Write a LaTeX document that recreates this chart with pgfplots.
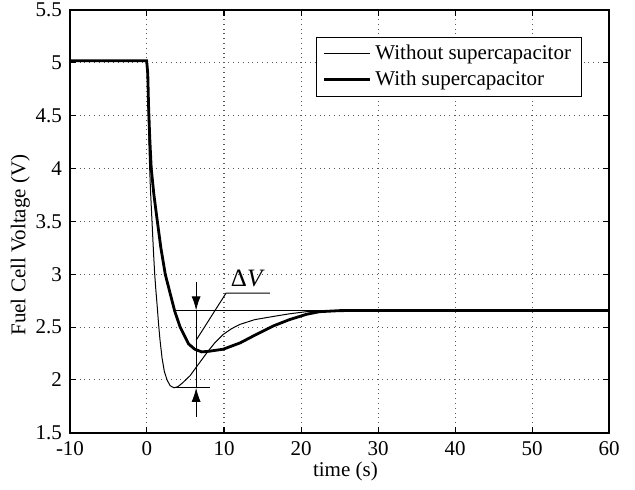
\documentclass[border=0pt]{standalone}
\usepackage{fontspec}
\setmainfont{Liberation Serif}
\usepackage{pgfplots}
\pgfplotsset{compat=1.18}
\usetikzlibrary{arrows.meta}
\begin{document}
\begin{tikzpicture}
\useasboundingbox (-35pt,-28.65pt) rectangle (282.5pt,216.35pt);
\begin{axis}[
  at={(0pt,0pt)}, anchor=south west,
  scale only axis, width=269.5pt, height=211.35pt,
  xmin=-10, xmax=60, ymin=1.5, ymax=5.5,
  xtick={-10,0,10,20,30,40,50,60},
  ytick={1.5,2,2.5,3,3.5,4,4.5,5,5.5},
  grid=major,
  major grid style={black!65, dotted, line width=0.5pt},
  axis line style={line width=0.9pt},
  tick align=inside, major tick length=3pt,
  tick style={black, line width=0.5pt},
  /pgf/number format/assume math mode=true,
  ticklabel style={font=\fontsize{10.5}{12.5}\selectfont},
  xticklabel style={yshift=-1pt},
  yticklabel style={xshift=-0.5pt},
  xlabel={time (s)},
  ylabel={Fuel Cell Voltage (V)},
  x label style={at={(axis description cs:0.511,0)}, anchor=center, yshift=-19.5pt, font=\fontsize{10.5}{12.5}\selectfont},
  y label style={at={(axis description cs:-0.092,0.444)}, anchor=center, rotate=0, font=\fontsize{10.5}{12.5}\selectfont},
  legend style={at={(axis description cs:0.949,0.937)}, anchor=north east,
    draw=black, line width=0.5pt, inner xsep=3pt, inner ysep=2pt,
    font=\fontsize{10.5}{12.5}\selectfont, cells={anchor=west}},
  legend image code/.code={\draw[#1] (0pt,0pt) -- (23pt,0pt);},
]
\addplot[black, line width=0.5pt] coordinates {
(-10,5.02) (-0.15,5.02) (0,5.0) (0.1,4.75) (0.2,4.4) (0.3,4.1) (0.45,3.8)
(0.65,3.5) (0.85,3.2) (1.0,3.0) (1.15,2.85) (1.3,2.72) (1.5,2.53) (1.7,2.37)
(1.95,2.21) (2.25,2.08) (2.6,2.0) (3.0,1.945) (3.5,1.925) (4.0,1.935) (4.6,1.97)
(5.6,2.04) (6.5,2.13) (7.76,2.255) (8.8,2.35) (9.9,2.43) (11,2.485) (12.07,2.525)
(14,2.57) (16.4,2.60) (18.5,2.625) (20.7,2.645) (23,2.653) (26,2.657) (60,2.657)
};
\addlegendentry{Without supercapacitor}
\addplot[black, line width=1.4pt] coordinates {
(-10,5.02) (-0.05,5.02) (0.1,4.9) (0.2,4.6) (0.35,4.3) (0.55,4.0) (0.9,3.75)
(1.29,3.53) (1.8,3.25) (2.37,3.0) (3.0,2.82) (3.6,2.65) (4.3,2.5) (5.4,2.34)
(6.2,2.29) (7.1,2.265) (8,2.27) (9.9,2.29) (12.1,2.35) (14.2,2.43) (16.4,2.51)
(18.5,2.57) (20.7,2.62) (22.4,2.645) (25,2.655) (28,2.657) (60,2.657)
};
\addlegendentry{With supercapacitor}
% annotation
\draw[black, line width=0.5pt] (axis cs:3.66,2.657) -- (axis cs:30,2.657);
\draw[black, line width=0.5pt] (axis cs:3.5,1.925) -- (axis cs:8.2,1.925);
\draw[black, line width=0.5pt] (axis cs:6.38,2.657) -- (axis cs:6.38,1.925);
\draw[black, line width=0.5pt, -{Latex[length=7pt,width=4.5pt]}] (axis cs:6.38,2.93) -- (axis cs:6.38,2.657);
\draw[black, line width=0.5pt, -{Latex[length=7pt,width=4.5pt]}] (axis cs:6.38,1.65) -- (axis cs:6.38,1.925);
\draw[black, line width=0.5pt] (axis cs:6.38,2.375) -- (axis cs:10.26,2.82) -- (axis cs:15.95,2.82);
\node[font=\fontsize{12.5}{14}\selectfont] at (axis cs:13.1,2.96) {Δ\textit{V}};
\end{axis}
\end{tikzpicture}
\end{document}
